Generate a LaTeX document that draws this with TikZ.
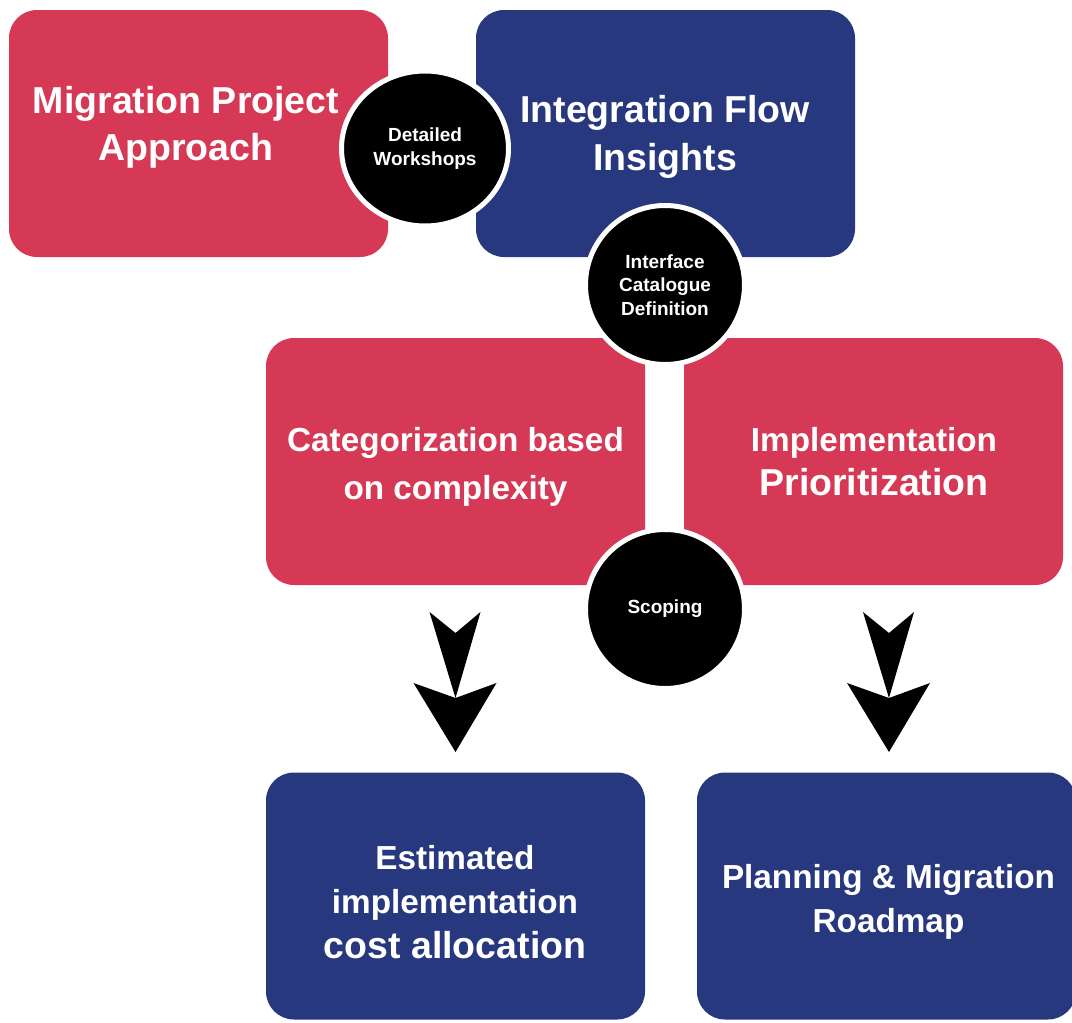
\documentclass[tikz,border=0pt]{standalone}
\usepackage{fontspec}
\setmainfont{Liberation Sans}
\usetikzlibrary{shapes.geometric}
\definecolor{crimson}{RGB}{213,57,85}
\definecolor{navyblue}{RGB}{39,56,126}
\begin{document}
\begin{tikzpicture}[x=1pt,y=-1pt,
  panel/.style={rectangle, rounded corners=28pt, minimum width=379pt, minimum height=247pt, inner sep=0pt, draw=none},
  redpanel/.style={panel, fill=crimson},
  bluepanel/.style={panel, fill=navyblue},
  txt/.style={text=white, align=center, inner sep=0pt},
  bigfont/.style={font=\bfseries\fontsize{37.5}{47}\selectfont},
  midfont/.style={font=\bfseries\fontsize{33.3}{44.5}\selectfont},
  hub/.style={fill=black, draw=white, line width=5pt, inner sep=0pt, text=white, align=center, font=\bfseries\fontsize{19}{23.5}\selectfont},
  dblchev/.pic={
    \fill[black] (-26,0) -- (0,21) -- (25,0) -- (0,86) -- cycle;
    \fill[black] (-42,71) -- (0,86) -- (41,71) -- (0,140) -- cycle;
  }]
\useasboundingbox (0,0) rectangle (1072,1023);
% panels
\node[redpanel]  (mpa)  at (198.5,133.5) {};
\node[bluepanel] (ifi)  at (665.5,133.5) {};
\node[redpanel]  (cat)  at (455.5,461.5) {};
\node[redpanel]  (imp)  at (873.5,461.5) {};
\node[bluepanel] (est)  at (455.5,896) {};
\node[bluepanel] (plan) at (886.5,896) {};
% panel texts
\node[txt, bigfont] (mpa-t) at (186,127) {Migration Project\\Approach};
\node[txt, bigfont, font=\bfseries\fontsize{37.5}{48}\selectfont] (ifi-t) at (665,137) {Integration Flow\\Insights};
\node[txt, midfont, font=\bfseries\fontsize{33.3}{48}\selectfont] (cat-t) at (455.5,467) {Categorization based\\on complexity};
\node[txt, midfont, font=\bfseries\fontsize{33.3}{44}\selectfont] (imp-t) at (874,462) {Implementation\\{\fontsize{37.5}{44}\selectfont Prioritization}};
\node[txt, midfont] (est-t) at (455,902) {Estimated\\implementation\\{\fontsize{37.5}{44.5}\selectfont cost allocation}};
\node[txt, midfont, font=\bfseries\fontsize{33.3}{44}\selectfont] (plan-t) at (888.5,902) {Planning \& Migration\\Roadmap};
% hubs
\node[hub, ellipse, minimum width=167pt, minimum height=155pt] (dw) at (425,148.5) {Detailed\\Workshops};
\node[hub, circle, minimum size=159pt] (icd) at (665,285) {Interface\\Catalogue\\Definition};
\node[hub, circle, minimum size=159pt] (sco) at (665,609) {Scoping};
% arrows
\coordinate (la) at (455.5,612);
\coordinate (ra) at (889,612);
\pic at (la) {dblchev};
\pic at (ra) {dblchev};
\end{tikzpicture}
\end{document}
